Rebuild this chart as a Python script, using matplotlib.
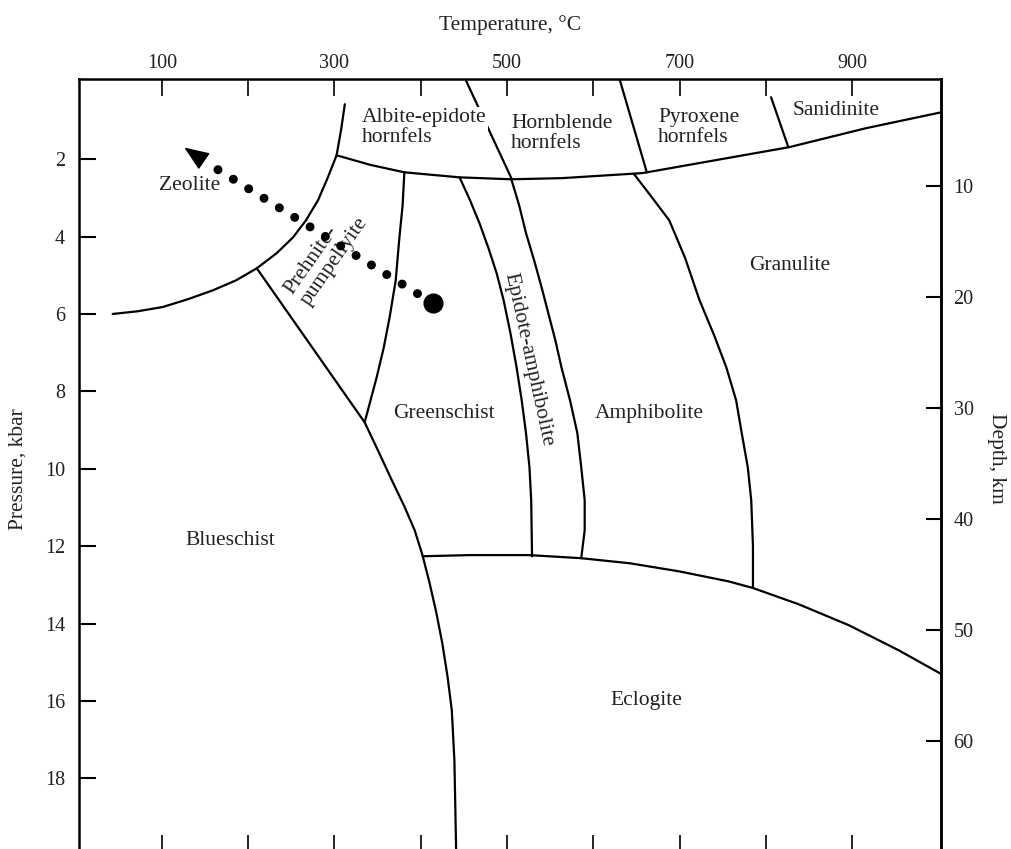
import matplotlib.pyplot as plt

plt.rcParams['font.family'] = ['Liberation Serif', 'DejaVu Serif']
plt.rcParams['text.color'] = '#222222'

# facies boundaries: temperature (deg C), pressure (kbar)
zeolite_T = [312, 308, 302.5, 292, 281, 267, 252, 233, 210, 186, 159, 130, 101, 72, 43]
zeolite_P = [0.58, 1.20, 1.90, 2.49, 3.06, 3.58, 4.02, 4.43, 4.82, 5.13, 5.39, 5.62,
             5.82, 5.93, 6.00]

hornfels_T = [302.5, 342, 381, 445, 505, 564, 657, 723, 827, 916, 1003]
hornfels_P = [1.90, 2.15, 2.34, 2.47, 2.52, 2.49, 2.36, 2.10, 1.69, 1.20, 0.79]

albite_hbl_T = [451, 505]
albite_hbl_P = [-0.1, 2.49]

hbl_pyx_T = [630, 662]
hbl_pyx_P = [-0.1, 2.34]

pyx_san_T = [806, 826]
pyx_san_P = [0.40, 1.69]

blueschist_T = [210, 335, 352, 367, 381, 393, 402, 410, 418, 425, 431, 436, 439, 441, 442]
blueschist_P = [4.82, 8.80, 9.60, 10.32, 10.97, 11.59, 12.23, 12.93, 13.71, 14.51,
                15.36, 16.24, 17.53, 19.83, 20.3]

prehnite_gs_T = [381, 379, 375, 371, 364, 357, 349, 335]
prehnite_gs_P = [2.34, 3.19, 4.09, 5.13, 6.08, 6.88, 7.63, 8.80]

gs_epamph_T = [445, 456.5, 468, 478.5, 488, 496, 504, 511, 517, 522, 526, 528, 529]
gs_epamph_P = [2.47, 3.03, 3.65, 4.30, 4.95, 5.64, 6.50, 7.37, 8.23, 9.08, 9.96,
               10.81, 12.26]

epamph_amph_T = [505, 514, 522, 532, 541, 549, 556, 563, 573, 581.5, 586, 590, 590, 586]
epamph_amph_P = [2.52, 3.19, 3.91, 4.66, 5.39, 6.08, 6.68, 7.37, 8.23, 9.08, 9.96,
                 10.81, 11.59, 12.31]

amph_gran_T = [647, 667, 688, 706.5, 723, 740, 754, 765.5, 772, 779, 783, 785, 785]
amph_gran_P = [2.38, 2.96, 3.58, 4.56, 5.64, 6.55, 7.37, 8.23, 9.08, 9.96, 10.81,
               12.0, 13.08]

eclogite_T = [402, 456.5, 526, 586, 642, 699.5, 757, 785, 838, 896, 954, 1003]
eclogite_P = [12.26, 12.23, 12.23, 12.31, 12.44, 12.65, 12.91, 13.08, 13.50, 14.04,
              14.69, 15.30]

# facies names and label positions
facies_names = ['Zeolite', 'Prehnite-\npumpellyite', 'Greenschist', 'Epidote-amphibolite',
                'Amphibolite', 'Granulite', 'Blueschist', 'Eclogite',
                'Hornblende\nhornfels', 'Pyroxene\nhornfels', 'Sanidinite']
facies_T = [132, 291, 427, 525, 665, 827, 179, 662, 505, 675, 831]
facies_P = [2.68, 4.50, 8.56, 7.19, 8.56, 4.74, 11.84, 15.98, 1.33, 1.18, 0.73]
facies_rot = [0, 55, 0, -77.7, 0, 0, 0, 0, 0, 0, 0]
facies_ha = ['center'] * 8 + ['left'] * 3

# P-T path (start, last dot, arrow tip)
path_T = [414, 147.5, 126]
path_P = [5.72, 2.03, 1.70]

temp_ticks = [100, 200, 300, 400, 500, 600, 700, 800, 900]
temp_labels = ['100', '', '300', '', '500', '', '700', '', '900']
pressure_ticks = [2, 4, 6, 8, 10, 12, 14, 16, 18]
depth_ticks = [10, 20, 30, 40, 50, 60]

fig = plt.figure(figsize=(10.12, 8.49), dpi=100)
ax = fig.add_axes([0.0781, -0.0035, 0.8518, 0.9104])
ax.set_xlim(4, 1003)
ax.set_ylim(19.9, -0.07)

boundaries = [
    (zeolite_T, zeolite_P), (hornfels_T, hornfels_P), (albite_hbl_T, albite_hbl_P),
    (hbl_pyx_T, hbl_pyx_P), (pyx_san_T, pyx_san_P), (blueschist_T, blueschist_P),
    (prehnite_gs_T, prehnite_gs_P), (gs_epamph_T, gs_epamph_P),
    (epamph_amph_T, epamph_amph_P), (amph_gran_T, amph_gran_P),
    (eclogite_T, eclogite_P),
]
for t, p in boundaries:
    ax.plot(t, p, color='black', lw=1.6, solid_capstyle='round',
            solid_joinstyle='round', zorder=2)

for name, t, p, rot, ha in zip(facies_names, facies_T, facies_P, facies_rot, facies_ha):
    ax.text(t, p, name, fontsize=15.5, rotation=rot, ha=ha, va='center',
            multialignment='left', rotation_mode='anchor', linespacing=1.05, zorder=3)

# label that hides part of the hornfels divider
ax.text(331.5, 1.18, 'Albite-epidote\nhornfels', fontsize=15.5, ha='left', va='center',
        multialignment='left', linespacing=1.05, zorder=3,
        bbox=dict(facecolor='white', edgecolor='none', pad=1))

# dotted P-T path with arrow
ax.plot(path_T[:2], path_P[:2], color='black', lw=6.5, linestyle=(0, (0.001, 2.0)),
        dash_capstyle='round', zorder=4)
ax.plot(path_T[0], path_P[0], 'o', color='black', markersize=13.5, zorder=5)
ax.annotate('', xy=(path_T[2], path_P[2]), xytext=(path_T[1], path_P[1]),
            arrowprops=dict(arrowstyle='-|>,head_length=0.65,head_width=0.26',
                            color='black', lw=1, mutation_scale=24,
                            shrinkA=0, shrinkB=0), zorder=5)

for s in ax.spines.values():
    s.set_linewidth(1.8)

ax.xaxis.tick_top()
ax.set_xticks(temp_ticks)
ax.set_xticklabels(temp_labels)
ax.tick_params(axis='x', which='both', direction='in', length=12, width=1.2,
               top=True, bottom=True, labeltop=True, labelbottom=False,
               labelsize=14.5, pad=4, labelcolor='#222222')
ax.set_yticks(pressure_ticks)
ax.tick_params(axis='y', direction='in', length=12, width=1.5, labelsize=14.5,
               pad=10, left=True, right=False, labelcolor='#222222')

sec = ax.secondary_yaxis('right', functions=(lambda p: (p + 0.17) * 3.486,
                                             lambda d: d / 3.486 - 0.17))
sec.set_yticks(depth_ticks)
sec.tick_params(direction='in', length=11, width=1.5, labelsize=14.5, pad=9,
                labelcolor='#222222')
sec.spines['right'].set_linewidth(1.8)

fig.text(0.504, 0.970, 'Temperature, °C', fontsize=15.5, ha='center', va='center')
fig.text(0.018, 0.447, 'Pressure, kbar', fontsize=15.5, ha='center', va='center',
         rotation=90)
fig.text(0.985, 0.46, 'Depth, km', fontsize=15.5, ha='center', va='center',
         rotation=-90)

fig.savefig('out.png', dpi=100)
